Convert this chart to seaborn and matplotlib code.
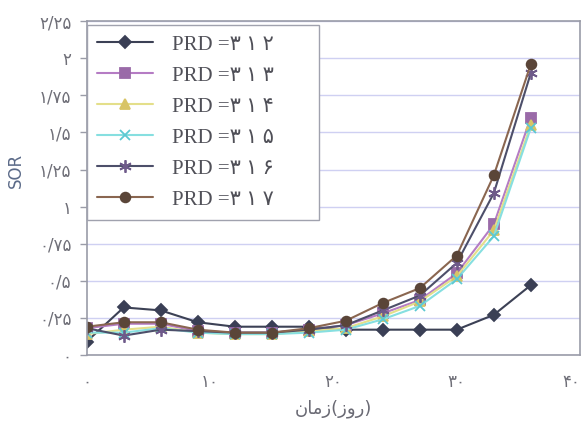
import matplotlib
matplotlib.use("Agg")
import matplotlib.pyplot as plt
import seaborn as sns
import pandas as pd

# Time in days
days = [0, 3, 6, 9, 12, 15, 18, 21, 24, 27, 30, 33, 36]

# SOR for each PRD ratio
sor_prd_2 = [0.09, 0.32, 0.30, 0.22, 0.19, 0.19, 0.19, 0.17, 0.17, 0.17, 0.17, 0.27, 0.47]
sor_prd_3 = [0.18, 0.21, 0.21, 0.16, 0.15, 0.15, 0.17, 0.20, 0.28, 0.37, 0.55, 0.88, 1.60]
sor_prd_4 = [0.14, 0.17, 0.19, 0.15, 0.14, 0.14, 0.16, 0.18, 0.26, 0.36, 0.53, 0.84, 1.55]
sor_prd_5 = [0.15, 0.15, 0.18, 0.15, 0.14, 0.14, 0.15, 0.17, 0.24, 0.33, 0.51, 0.80, 1.53]
sor_prd_6 = [0.18, 0.13, 0.17, 0.16, 0.15, 0.15, 0.17, 0.20, 0.30, 0.40, 0.62, 1.09, 1.90]
sor_prd_7 = [0.19, 0.22, 0.22, 0.17, 0.15, 0.15, 0.18, 0.23, 0.35, 0.45, 0.67, 1.21, 1.96]

series_labels = [
    "PRD =۳ ۱ ۲",
    "PRD =۳ ۱ ۳",
    "PRD =۳ ۱ ۴",
    "PRD =۳ ۱ ۵",
    "PRD =۳ ۱ ۶",
    "PRD =۳ ۱ ۷",
]

y_ticks = [0, 0.25, 0.5, 0.75, 1, 1.25, 1.5, 1.75, 2, 2.25]
y_tick_labels = ["۰", "۰/۲۵", "۰/۵", "۰/۷۵", "۱", "۱/۲۵", "۱/۵", "۱/۷۵", "۲", "۲/۲۵"]
x_ticks = [0, 10, 20, 30, 40]
x_tick_labels = ["۰", "۱۰", "۲۰", "۳۰", "۴۰"]

# Axis titles (x title written in presentation forms, left-to-right visual order)
y_title = "SOR"
x_title = "\uFEE5\uFE8E\uFEE3\uFEAF(\uFEAF\uFEED\uFEAD)"

all_series = [sor_prd_2, sor_prd_3, sor_prd_4, sor_prd_5, sor_prd_6, sor_prd_7]

styles = [
    dict(color="#3c4155", marker="D", mfc="#3a3f55", mec="#3a3f55", ms=6.5),
    dict(color="#b57cc4", marker="s", mfc="#9a6aa8", mec="#9a6aa8", ms=6.5),
    dict(color="#e4df8a", marker="^", mfc="#d8c466", mec="#d8c466", ms=7),
    dict(color="#86dfe0", marker="x", mfc="#5cc8d2", mec="#5cc8d2", ms=7),
    dict(color="#4d4f6a", marker=(6, 2, 0), mfc="#6e5a8a", mec="#6e5a8a", ms=9),
    dict(color="#8a6650", marker="o", mfc="#5a4538", mec="#5a4538", ms=7),
]

sns.set_theme(style="white")
plt.rcParams["font.family"] = ["DejaVu Sans"]

fig = plt.figure(figsize=(5.86, 4.24), dpi=100)
ax = fig.add_axes([0.148, 0.163, 0.842, 0.787])

for vals, label, st in zip(all_series, series_labels, styles):
    df = pd.DataFrame({"day": days, "sor": vals})
    sns.lineplot(
        data=df, x="day", y="sor", ax=ax, label=label,
        color=st["color"], marker=st["marker"],
        markerfacecolor=st["mfc"], markeredgecolor=st["mec"],
        markersize=st["ms"], markeredgewidth=1.3, linewidth=1.5,
    )

ax.set_xlim(0, 40)
ax.set_ylim(0, 2.25)
ax.set_yticks(y_ticks)
ax.set_yticklabels(y_tick_labels)
ax.set_xticks(x_ticks)
ax.set_xticklabels(x_tick_labels)
# keep the last x label inside the figure edge
ax.get_xticklabels()[-1].set_horizontalalignment("right")

ax.yaxis.grid(True, color="#cfd0f2", linewidth=1.0)
ax.xaxis.grid(False)
ax.set_axisbelow(True)

for side in ["left", "bottom", "right", "top"]:
    ax.spines[side].set_color("#9a9ca8")
    ax.spines[side].set_linewidth(1.2)

ax.tick_params(axis="y", which="both", left=True, length=5, width=1,
               color="#9a9ca8", labelsize=12, labelcolor="#6f6f78", pad=6)
ax.tick_params(axis="x", which="both", bottom=False, labelsize=12,
               labelcolor="#6f6f78", pad=7)

ax.set_ylabel(y_title, fontsize=12, color="#5b6a88")
ax.yaxis.set_label_coords(-0.125, 0.554)
ax.set_xlabel(x_title, fontsize=13, color="#6a6a74", labelpad=6)

leg = ax.legend(
    loc="upper left", bbox_to_anchor=(0.0, 0.413, 0.47, 0.577), mode="expand",
    borderaxespad=0.0,
    frameon=True, fancybox=False, edgecolor="#a0a2ae", facecolor="white",
    framealpha=1.0, handlelength=2.7, handletextpad=0.9, labelspacing=0.55,
    borderpad=0.5,
    prop={"family": ["Liberation Serif", "DejaVu Sans"], "size": 15},
)
leg.get_frame().set_linewidth(1.0)
for txt in leg.get_texts():
    txt.set_color("#505058")

fig.savefig("out.png", dpi=100, facecolor="white")
